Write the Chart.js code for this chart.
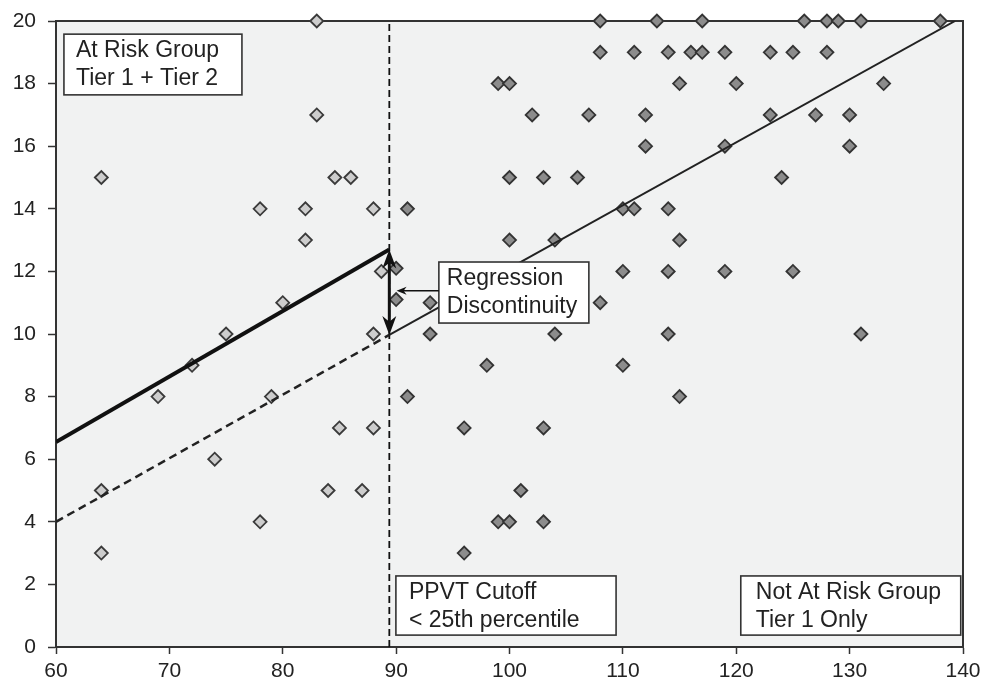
<!DOCTYPE html>
<html><head><meta charset="utf-8">
<script src="https://cdn.jsdelivr.net/npm/chart.js@4.4.1/dist/chart.umd.min.js"></script>
<style>html,body{margin:0;padding:0;background:#fff;}#wrap{width:983px;height:681px;}</style>
</head><body><div id="wrap"><canvas id="c" width="983" height="681"></canvas></div>
<script>
// ---- data ----
const xTicks = [60, 70, 80, 90, 100, 110, 120, 130, 140];
const yTicks = [0, 2, 4, 6, 8, 10, 12, 14, 16, 18, 20];

// At Risk group (below PPVT cutoff)
const atRiskX = [64, 64, 64, 69, 72, 74, 75, 78, 78, 79, 80, 82, 82, 83, 83, 84, 84.6, 85, 86, 87, 88, 88, 88, 88.7];
const atRiskY = [15, 5, 3, 8, 9, 6, 10, 14, 4, 8, 11, 14, 13, 20, 17, 5, 15, 7, 15, 5, 14, 10, 7, 12];

// Not At Risk group (above cutoff)
const notAtRiskX = [108,113,117,126,128,129,131,138,
  108,111,114,116,117,119,123,125,128,
  99,100,115,120,133,
  102,107,112,123,127,130,
  112,119,130,
  100,103,106,124,
  91,110,111,114,
  100,104,115,
  90,110,114,119,125,
  90,93,108,
  93,104,114,131,
  98,110,
  91,115,
  96,103,
  101,
  99,100,103,
  96];
const notAtRiskY = [20,20,20,20,20,20,20,20,
  19,19,19,19,19,19,19,19,19,
  18,18,18,18,18,
  17,17,17,17,17,17,
  16,16,16,
  15,15,15,15,
  14,14,14,14,
  13,13,13,
  12.1,12,12,12,12,
  11.1,11,11,
  10,10,10,10,
  9,9,
  8,8,
  7,7,
  5,
  4,4,4,
  3];

const cutoff = 89.4;
const cutoffLineY = [0, 20];
const atRiskFitX = [60, 89.4];
const atRiskFitY = [6.55, 12.7];
const projectedFitX = [60, 89.4];
const projectedFitY = [4, 9.97];
const notAtRiskFitX = [89.4, 139.3];
const notAtRiskFitY = [9.97, 20];

const boxTexts = {
  atRisk: ['At Risk Group', 'Tier 1 + Tier 2'],
  disc: ['Regression', 'Discontinuity'],
  cutoff: ['PPVT Cutoff', '< 25th percentile'],
  notAtRisk: ['Not At Risk Group', 'Tier 1 Only']
};

const zip = (xs, ys) => xs.map((x, i) => ({x: x, y: ys[i]}));

// ---- drawing helpers ----
const FAMILY = '"Liberation Sans", Arial, sans-serif';
const FONT = '23px ' + FAMILY;

function arrowHead(ctx, tipX, tipY, dirX, dirY, len, half) {
  const px = -dirY, py = dirX;
  const bx = tipX - dirX * len, by = tipY - dirY * len;
  const nx = tipX - dirX * len * 0.7, ny = tipY - dirY * len * 0.7;
  ctx.beginPath();
  ctx.moveTo(tipX, tipY);
  ctx.lineTo(bx + px * half, by + py * half);
  ctx.lineTo(nx, ny);
  ctx.lineTo(bx - px * half, by - py * half);
  ctx.closePath();
  ctx.fill();
}

const decor = {
  id: 'decor',
  beforeDraw(chart) {
    const {ctx, chartArea: a} = chart;
    ctx.save();
    ctx.fillStyle = '#f1f2f2';
    ctx.fillRect(a.left, a.top, a.right - a.left, a.bottom - a.top);
    ctx.restore();
  },
  beforeDatasetsDraw(chart) {
    const {ctx, chartArea: a} = chart;
    ctx.save();
    ctx.strokeStyle = '#333';
    ctx.lineWidth = 2;
    ctx.strokeRect(a.left, a.top, a.right - a.left, a.bottom - a.top);
    ctx.restore();
  },
  afterDatasetsDraw(chart) {
    const {ctx, scales: {x, y}} = chart;
    const X = v => x.getPixelForValue(v), Y = v => y.getPixelForValue(v);
    ctx.save();
    // text boxes: corners in data units
    const boxes = [
      {t: boxTexts.atRisk, x0: 60.7, x1: 76.4, y0: 19.58, y1: 17.64, pad: 12},
      {t: boxTexts.disc, x0: 93.77, x1: 107.0, y0: 12.3, y1: 10.35, pad: 8},
      {t: boxTexts.cutoff, x0: 89.98, x1: 109.4, y0: 2.27, y1: 0.38, pad: 13},
      {t: boxTexts.notAtRisk, x0: 120.4, x1: 139.8, y0: 2.27, y1: 0.38, pad: 15}
    ];
    boxes.forEach(b => {
      const l = X(b.x0), r = X(b.x1), t = Y(b.y0), bt = Y(b.y1);
      ctx.fillStyle = '#fff';
      ctx.fillRect(l, t, r - l, bt - t);
      ctx.strokeStyle = '#333';
      ctx.lineWidth = 1.6;
      ctx.strokeRect(l, t, r - l, bt - t);
      ctx.fillStyle = '#222';
      ctx.font = FONT;
      ctx.textBaseline = 'alphabetic';
      ctx.textAlign = 'left';
      ctx.fillText(b.t[0], l + b.pad, t + 23);
      ctx.fillText(b.t[1], l + b.pad, t + 51);
    });
    // double-headed discontinuity arrow
    const ax = X(cutoff), aTop = Y(atRiskFitY[1]), aBot = Y(projectedFitY[1]);
    ctx.strokeStyle = '#111';
    ctx.fillStyle = '#111';
    ctx.lineWidth = 3;
    ctx.beginPath();
    ctx.moveTo(ax, aTop + 10);
    ctx.lineTo(ax, aBot - 10);
    ctx.stroke();
    arrowHead(ctx, ax, aTop, 0, -1, 19, 7);
    arrowHead(ctx, ax, aBot, 0, 1, 19, 7);
    // small pointer from box
    const py = Y(11.38), pTip = X(90.04), pStart = X(93.77);
    ctx.lineWidth = 1.5;
    ctx.beginPath();
    ctx.moveTo(pStart, py);
    ctx.lineTo(pTip + 6, py);
    ctx.stroke();
    arrowHead(ctx, pTip, py, -1, 0, 10, 4);
    ctx.restore();
  }
};

new Chart(document.getElementById('c'), {
  type: 'scatter',
  data: {
    datasets: [
      {type: 'line', data: zip(atRiskFitX, atRiskFitY), borderColor: '#111', borderWidth: 4, pointRadius: 0, fill: false, order: 0},
      {type: 'line', data: zip(projectedFitX, projectedFitY), borderColor: '#222', borderWidth: 2.5, borderDash: [8, 5], pointRadius: 0, fill: false, order: 1},
      {type: 'line', data: zip(notAtRiskFitX, notAtRiskFitY), borderColor: '#222', borderWidth: 2, pointRadius: 0, fill: false, order: 2},
      {type: 'line', data: zip([cutoff, cutoff], cutoffLineY), borderColor: '#111', borderWidth: 1.8, borderDash: [7, 4], pointRadius: 0, fill: false, order: 3},
      {data: zip(atRiskX, atRiskY), pointStyle: 'rectRot', pointRadius: 6.5, borderWidth: 1.8, backgroundColor: '#cdcdcd', borderColor: '#3a3a3a', clip: false, order: 5},
      {data: zip(notAtRiskX, notAtRiskY), pointStyle: 'rectRot', pointRadius: 6.5, borderWidth: 1.8, backgroundColor: '#8c8c8c', borderColor: '#333', clip: false, order: 4}
    ]
  },
  options: {
    responsive: false,
    devicePixelRatio: 1,
    animation: false,
    layout: {padding: {left: 0, right: 20, top: 21, bottom: 0}},
    plugins: {legend: {display: false}, tooltip: {enabled: false}},
    scales: {
      x: {
        type: 'linear', min: xTicks[0], max: xTicks[xTicks.length - 1],
        afterBuildTicks: s => { s.ticks = xTicks.map(v => ({value: v})); },
        afterFit: s => { s.height = 34; s.paddingLeft = 0; s.paddingRight = 0; },
        grid: {display: true, drawOnChartArea: false, drawTicks: true, tickLength: 7, tickColor: '#333', tickWidth: 1.5},
        border: {display: true, color: '#333', width: 2},
        ticks: {color: '#222', padding: 5, font: {family: FAMILY, size: 21}}
      },
      y: {
        type: 'linear', min: yTicks[0], max: yTicks[yTicks.length - 1],
        afterBuildTicks: s => { s.ticks = yTicks.map(v => ({value: v})); },
        afterFit: s => { s.width = 56; s.paddingTop = 0; s.paddingBottom = 0; },
        grid: {display: true, drawOnChartArea: false, drawTicks: true, tickLength: 8, tickColor: '#333', tickWidth: 1.5},
        border: {display: true, color: '#333', width: 2},
        ticks: {color: '#222', padding: 12, font: {family: FAMILY, size: 21}}
      }
    }
  },
  plugins: [decor]
});
</script>
</body></html>
